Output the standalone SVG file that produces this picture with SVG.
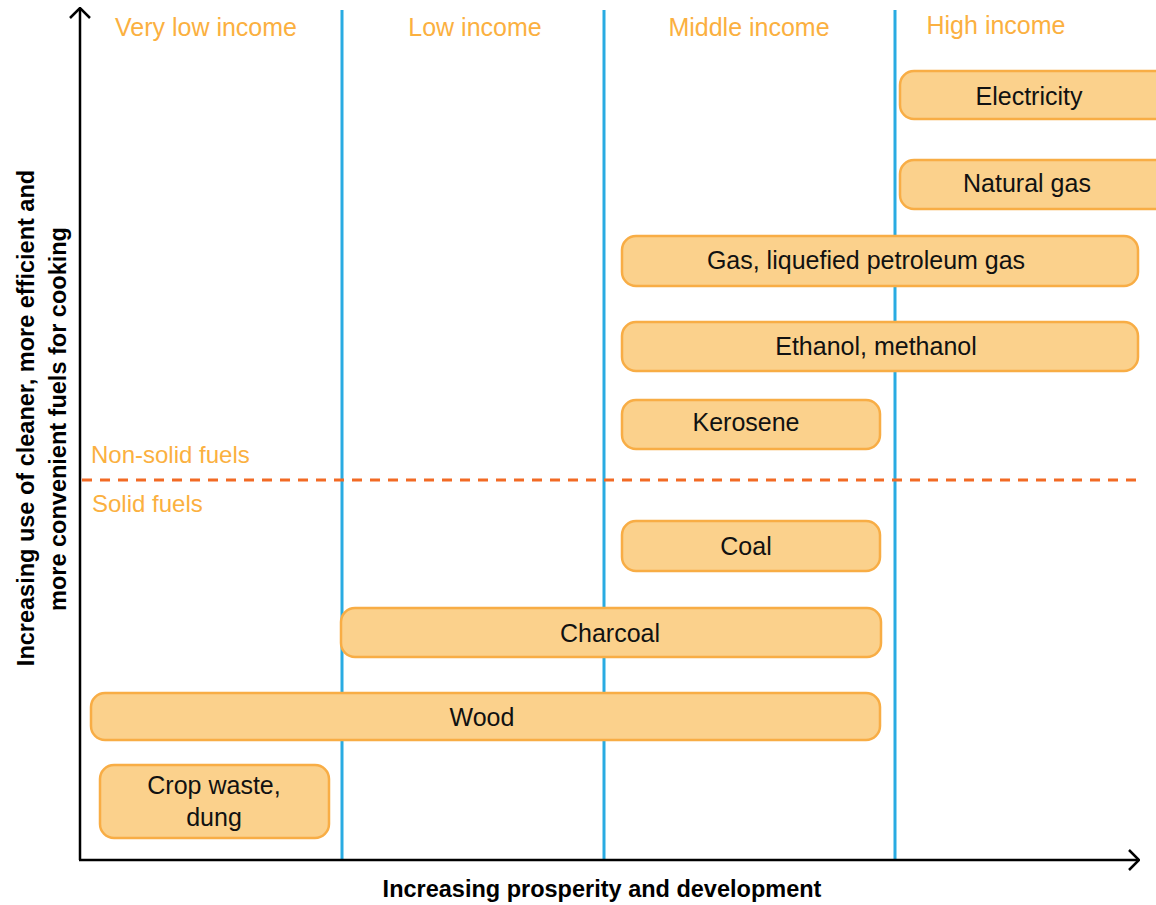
<svg xmlns="http://www.w3.org/2000/svg" width="1156" height="905" viewBox="0 0 1156 905">
<defs>
<style>
.box{fill:#fbd18c;stroke:#f8ad45;stroke-width:2.5}
.lbl{font-family:"Liberation Sans",Arial,sans-serif;font-size:25px;fill:#111;text-anchor:middle}
.col{font-family:"Liberation Sans",Arial,sans-serif;font-size:25px;fill:#fbb040;text-anchor:middle}
.zone{font-family:"Liberation Sans",Arial,sans-serif;font-size:24px;fill:#fbb040}
.axt{font-family:"Liberation Sans",Arial,sans-serif;font-size:23.5px;font-weight:bold;fill:#000;text-anchor:middle}
.axis{stroke:#000;stroke-width:2.5;fill:none}
.band{stroke:#29abe2;stroke-width:3}
</style>
<marker id="chev" viewBox="0 0 12 22" refX="11" refY="11" markerWidth="12" markerHeight="22" markerUnits="userSpaceOnUse" orient="auto">
<path d="M1,1 L11,11 L1,21" fill="none" stroke="#000" stroke-width="2.5"/>
</marker>
</defs>
<rect width="1156" height="905" fill="#fff"/>

<g id="bands">
<line class="band" x1="342" y1="10" x2="342" y2="860"/>
<line class="band" x1="604" y1="10" x2="604" y2="860"/>
<line class="band" x1="895" y1="10" x2="895" y2="860"/>
</g>

<g id="column-labels">
<text class="col" x="206" y="36">Very low income</text>
<text class="col" x="475" y="36">Low income</text>
<text class="col" x="749" y="36">Middle income</text>
<text class="col" x="996" y="34">High income</text>
</g>

<g id="divider">
<line x1="82" y1="480" x2="1142" y2="480" stroke="#f26a24" stroke-width="3" stroke-dasharray="10,8"/>
<text class="zone" x="91" y="463">Non-solid fuels</text>
<text class="zone" x="92" y="512">Solid fuels</text>
</g>

<g id="connectors">
<line class="axis" x1="80" y1="860" x2="80" y2="8" marker-end="url(#chev)"/>
<line class="axis" x1="79" y1="860" x2="1139" y2="860" marker-end="url(#chev)"/>
</g>

<g id="electricity"><rect class="box" x="900" y="71" width="270" height="48" rx="14"/><text class="lbl" x="1029" y="105">Electricity</text></g>
<g id="natural-gas"><rect class="box" x="900" y="160" width="270" height="49" rx="14"/><text class="lbl" x="1027" y="192">Natural gas</text></g>
<g id="lpg"><rect class="box" x="622" y="236" width="516" height="50" rx="14"/><text class="lbl" x="866" y="269">Gas, liquefied petroleum gas</text></g>
<g id="ethanol"><rect class="box" x="622" y="322" width="516" height="49" rx="14"/><text class="lbl" x="876" y="355">Ethanol, methanol</text></g>
<g id="kerosene"><rect class="box" x="622" y="400" width="258" height="49" rx="14"/><text class="lbl" x="746" y="431">Kerosene</text></g>
<g id="coal"><rect class="box" x="622" y="521" width="258" height="50" rx="14"/><text class="lbl" x="746" y="555">Coal</text></g>
<g id="charcoal"><rect class="box" x="341" y="608" width="540" height="49" rx="14"/><text class="lbl" x="610" y="642">Charcoal</text></g>
<g id="wood"><rect class="box" x="91" y="693" width="789" height="47" rx="14"/><text class="lbl" x="482" y="726">Wood</text></g>
<g id="crop-waste"><rect class="box" x="100" y="765" width="229" height="73" rx="14"/><text class="lbl" x="214" y="794">Crop waste,</text><text class="lbl" x="214" y="826">dung</text></g>

<g id="axis-titles">
<text class="axt" x="602" y="897">Increasing prosperity and development</text>
<text class="axt" transform="translate(34,418) rotate(-90)" x="0" y="0">Increasing use of cleaner, more efficient and</text>
<text class="axt" transform="translate(66,419) rotate(-90)" x="0" y="0">more convenient fuels for cooking</text>
</g>
</svg>
